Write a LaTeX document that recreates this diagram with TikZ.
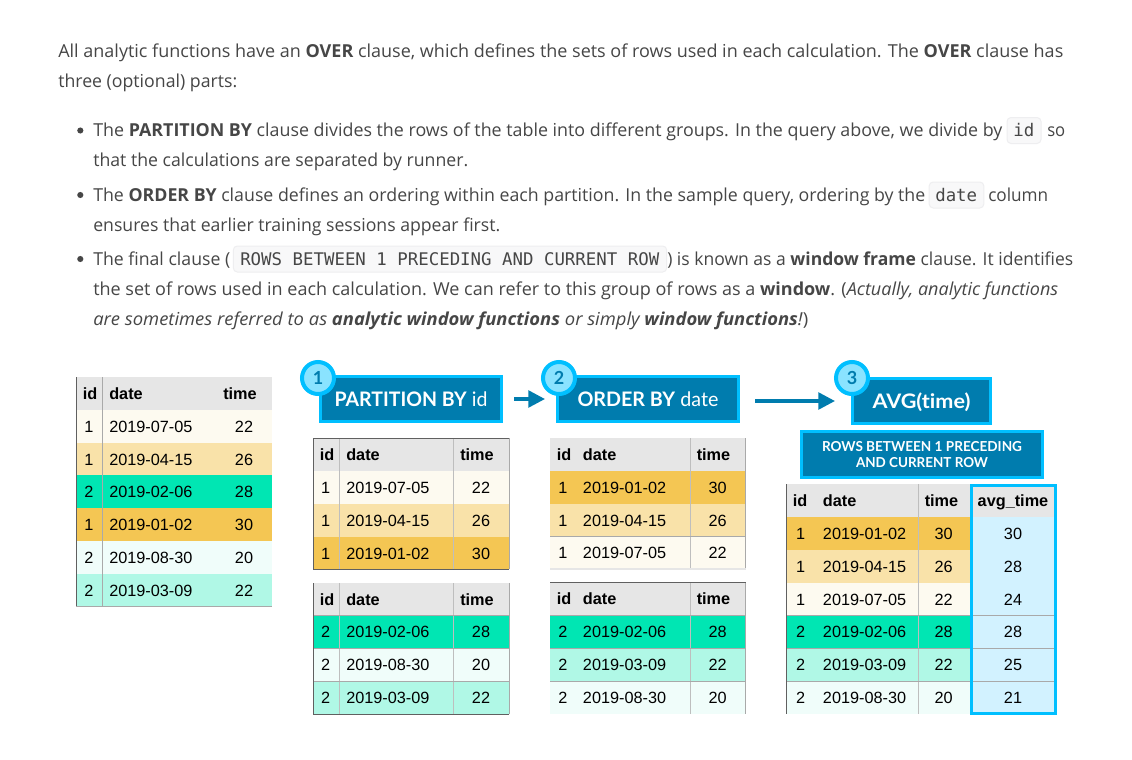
\documentclass[tikz,border=0pt]{standalone}
\usepackage{fontspec}
\usepackage{graphicx}
\setmainfont{Open Sans}
\setmonofont{DejaVu Sans Mono}
\newfontfamily\tabfont{Liberation Sans}
\newfontfamily\banfont[Ligatures=NoCommon]{Lato}
\usetikzlibrary{arrows.meta}
\definecolor{bodytxt}{HTML}{464646}
\definecolor{codebg}{HTML}{F8F8F9}
\definecolor{codeln}{HTML}{EEEEF0}
\definecolor{hdr}{HTML}{E6E6E6}
\definecolor{cream}{HTML}{FDFAF0}
\definecolor{lorange}{HTML}{F9E2A9}
\definecolor{orange}{HTML}{F4C653}
\definecolor{green}{HTML}{00E6B3}
\definecolor{lmint}{HTML}{F0FDFA}
\definecolor{mint}{HTML}{B0F8E6}
\definecolor{avgbg}{HTML}{D2F2FF}
\definecolor{banfill}{HTML}{007CAE}
\definecolor{bancyan}{HTML}{00BFFF}
\definecolor{circfill}{HTML}{8AE3FF}
\definecolor{gridgray}{HTML}{A9A9A9}
\definecolor{darkln}{HTML}{606060}
\newcommand{\fitw}[2]{\resizebox{\dimexpr #1pt*3/4\relax}{\height}{#2}}
\tikzset{
  para/.style={anchor=base west,inner sep=0pt,text=bodytxt,font=\fontsize{13.4pt}{16pt}\selectfont},
  codebox/.style={draw=codeln,fill=codebg,rounded corners=3pt,line width=0.75pt,inner sep=0pt,minimum height=19.5pt},
  codetxt/.style={anchor=base west,inner sep=0pt,text=bodytxt,font=\ttfamily\fontsize{13.05pt}{16pt}\selectfont},
  bulletdot/.style={circle,fill=bodytxt,inner sep=0pt,minimum size=4.6pt},
  cellb/.style={inner sep=0pt,text=black,font=\tabfont\fontsize{12.2pt}{14pt}\selectfont},
  cellc/.style={cellb,anchor=base},
  celll/.style={cellb,anchor=base west},
  headc/.style={cellc,font=\tabfont\bfseries\fontsize{12.2pt}{14pt}\selectfont},
  headl/.style={celll,font=\tabfont\bfseries\fontsize{12.2pt}{14pt}\selectfont},
  banner/.style={draw=bancyan,fill=banfill,line width=2.25pt,text=white,inner sep=0pt,
    font=\banfont\fontsize{15pt}{18pt}\selectfont},
  oneline/.style={text height=11.4pt,text depth=0pt},
  stepdot/.style={circle,draw=bancyan,fill=circfill,line width=3pt,minimum size=24pt,inner sep=0pt,
    text=banfill,font=\banfont\bfseries\fontsize{13.5pt}{16pt}\selectfont},
  flowarrow/.style={draw=banfill,line width=2.6pt,-{Triangle[length=12.5pt,width=12.5pt]}},
  sepln/.style={draw=gridgray,line width=0.6pt},
  colln/.style={draw=gridgray!75,line width=0.6pt},
  edgedark/.style={draw=darkln,line width=0.6pt}
}
% table column parameters: left, right, id centre, date left, number centre
\newcommand{\setcols}[5]{\def\xL{#1}\def\xR{#2}\def\xI{#3}\def\xD{#4}\def\xN{#5}}
\newcommand{\hrow}[5]{% name, top, bottom, time centre, id centre
  \fill[hdr] (\xL,#2) rectangle (\xR,#3);
  \path let \n1={(#2+#3)/2+6} in
    node[headc] (#1i) at (#5,\n1) {id}
    node[headl] (#1d) at (\xD,\n1) {date}
    node[headc] (#1t) at (#4,\n1) {time};}
\newcommand{\drow}[7]{% name, top, bottom, fill, id, date, time
  \fill[#4] (\xL,#2) rectangle (\xR,#3);
  \path let \n1={(#2+#3)/2+6} in
    node[cellc] (#1i) at (\xI,\n1) {#5}
    node[celll] (#1d) at (\xD,\n1) {#6}
    node[cellc] (#1t) at (\xN,\n1) {#7};}
\usetikzlibrary{calc}
\begin{document}
\begin{tikzpicture}[x=0.75pt,y=-0.75pt]
\useasboundingbox (0,0) rectangle (1132,760);
\fill[white] (0,0) rectangle (1132,760);
% paragraph text
\node[para] (l1) at (58,57) {\fitw{1005}{All analytic functions have an \textbf{OVER} clause, which defines the sets of rows used in each calculation. The \textbf{OVER} clause has}};
\node[para] (l2) at (58,87) {\fitw{179}{three (optional) parts:}};
\node[bulletdot] (b1) at (80.3,130.5) {};
\node[para] (l3) at (93,136) {\fitw{909}{The \textbf{PARTITION BY} clause divides the rows of the table into different groups. In the query above, we divide by}};
\node[codebox,minimum width=25.5pt] (c1) at (1024,130.5) {};
\node[codetxt] (c1t) at (1013,136) {id};
\node[para] (l3b) at (1047,136) {\fitw{18}{so}};
\node[para] (l4) at (93,166) {\fitw{375}{that the calculations are separated by runner.}};
\node[bulletdot] (b2) at (80.3,195) {};
\node[para] (l5) at (93,201) {\fitw{832}{The \textbf{ORDER BY} clause defines an ordering within each partition. In the sample query, ordering by the}};
\node[codebox,minimum width=41pt] (c2) at (956.5,195) {};
\node[codetxt] (c2t) at (935,201) {date};
\node[para] (l5b) at (988,201) {\fitw{60}{column}};
\node[para] (l6) at (93,231) {\fitw{407}{ensures that earlier training sessions appear first.}};
\node[bulletdot] (b3) at (80.3,259) {};
\node[para] (l7) at (93,265) {\fitw{137}{The final clause (}};
\node[codebox,minimum width=325pt] (c3) at (450,259) {};
\node[codetxt] (c3t) at (240,265) {ROWS BETWEEN 1 PRECEDING AND CURRENT ROW};
\node[para] (l7b) at (667,265) {\fitw{406}{) is known as a \textbf{window frame} clause. It identifies}};
\node[para] (l8) at (93,295) {\fitw{965}{the set of rows used in each calculation. We can refer to this group of rows as a \textbf{window}. (\textit{Actually, analytic functions}}};
\node[para] (l9) at (93,325) {\fitw{715}{\textit{are sometimes referred to as \textbf{analytic window functions} or simply \textbf{window functions}!})}};
% table 0
\setcols{76}{272}{89}{109}{244}
\hrow{ta0}{377}{410}{240}{90}
\drow{ta1}{410}{443}{cream}{1}{2019-07-05}{22}
\drow{ta2}{443}{475}{lorange}{1}{2019-04-15}{26}
\drow{ta3}{475}{508}{green}{2}{2019-02-06}{28}
\drow{ta4}{508}{541}{orange}{1}{2019-01-02}{30}
\drow{ta5}{541}{574}{lmint}{2}{2019-08-30}{20}
\drow{ta6}{574}{606.5}{mint}{2}{2019-03-09}{22}
\draw[sepln] (102,377) -- (102,606.5);
\draw[edgedark] (76,377) -- (76,606.5);
\draw[sepln] (76,606.5) -- (272,606.5);
% table 1a
\setcols{313}{509}{325.7}{346}{481}
\hrow{tb0}{438}{471}{477}{327}
\drow{tb1}{471}{504}{cream}{1}{2019-07-05}{22}
\drow{tb2}{504}{537}{lorange}{1}{2019-04-15}{26}
\drow{tb3}{537}{569}{orange}{1}{2019-01-02}{30}
\draw[colln] (339.5,438) -- (339.5,569) (453,438) -- (453,569);
\draw[sepln] (509,438) -- (509,569);
\draw[edgedark] (509,569) -- (313,569) -- (313,438) -- (509,438);
% table 1b
\hrow{tc0}{583}{615}{477}{327}
\drow{tc1}{615}{648}{green}{2}{2019-02-06}{28}
\drow{tc2}{648}{681}{lmint}{2}{2019-08-30}{20}
\drow{tc3}{681}{714}{mint}{2}{2019-03-09}{22}
\draw[colln] (339.5,583) -- (339.5,714) (453,583) -- (453,714);
\draw[sepln] (313,615) -- (509,615) (313,648) -- (509,648) (313,681) -- (509,681);
\draw[sepln] (509,583) -- (509,714);
\draw[edgedark] (509,714) -- (313,714) -- (313,583);
% table 2a
\setcols{550}{745.5}{563}{582.7}{717.7}
\hrow{td0}{438}{471}{713.5}{564}
\drow{td1}{471}{504}{orange}{1}{2019-01-02}{30}
\drow{td2}{504}{536}{lorange}{1}{2019-04-15}{26}
\drow{td3}{536}{569}{cream}{1}{2019-07-05}{22}
\draw[colln] (690.5,438) -- (690.5,569);
\draw[sepln] (550,536) -- (745.5,536) (745.5,438) -- (745.5,569);
\draw[draw=hdr,line width=0.8pt] (550,569) -- (745.5,569);
% table 2b
\hrow{te0}{582}{615}{713.5}{564}
\drow{te1}{615}{648}{green}{2}{2019-02-06}{28}
\drow{te2}{648}{681}{mint}{2}{2019-03-09}{22}
\drow{te3}{681}{714}{lmint}{2}{2019-08-30}{20}
\draw[colln] (690.5,582) -- (690.5,714);
\draw[sepln] (550,615) -- (745.5,615) (550,648) -- (745.5,648) (550,681) -- (745.5,681) (745.5,582) -- (745.5,714);
\draw[edgedark] (550,582) -- (745.5,582);
% table 3
\setcols{786}{970}{800.6}{822.7}{943.6}
\hrow{tf0}{484}{517}{941.5}{800}
\drow{tf1}{517}{550}{orange}{1}{2019-01-02}{30}
\drow{tf2}{550}{583}{lorange}{1}{2019-04-15}{26}
\drow{tf3}{583}{615}{cream}{1}{2019-07-05}{22}
\drow{tf4}{615}{648}{green}{2}{2019-02-06}{28}
\drow{tf5}{648}{681}{mint}{2}{2019-03-09}{22}
\drow{tf6}{681}{714}{lmint}{2}{2019-08-30}{20}
\fill[hdr] (970,484) rectangle (1057,517);
\fill[avgbg] (970,517) rectangle (1057,714);
\node[headc] (fa0) at (1013,506.5) {avg\_time};
\foreach \nm/\yy/\vv in {fa1/539.5/30,fa2/572.5/28,fa3/605/24,fa4/637.5/28,fa5/670.5/25,fa6/703.5/21}
  \node[cellc] (\nm) at (1013,\yy) {\vv};
\draw[colln] (918.5,484) -- (918.5,714);
\draw[sepln] (786,615) -- (1057,615) (786,648) -- (1057,648) (786,681) -- (1057,681);
\draw[edgedark] (786,484) -- (786,714);
\node[draw=bancyan,line width=2.25pt,inner sep=0pt,minimum width=84*0.75pt,minimum height=228*0.75pt] (avgframe) at (1013.5,599.5) {};
% banners
\node[banner,oneline,minimum width=181*0.75pt,minimum height=45*0.75pt] (ban1) at (411,399) {\fitw{153}{\textbf{PARTITION BY} id}};
\node[banner,oneline,minimum width=181*0.75pt,minimum height=45*0.75pt] (ban2) at (648,399) {\fitw{141}{\textbf{ORDER BY} date}};
\node[banner,oneline,minimum width=138*0.75pt,minimum height=45*0.75pt] (ban3) at (921.5,401) {\fitw{98}{\textbf{AVG(time)}}};
\node[banner,minimum width=241*0.75pt,minimum height=46*0.75pt,align=center,font=\banfont\bfseries\fontsize{10.3pt}{13pt}\selectfont] (ban4) at (922,454.5) {\fitw{200}{ROWS BETWEEN 1 PRECEDING}\\[-0.5pt]\fitw{132}{AND CURRENT ROW}};
\draw[flowarrow,shorten <=8.25pt,shorten >=8.25pt] (ban1.east) -- (ban2.west);
\draw[flowarrow,shorten <=11.25pt,shorten >=12pt] (ban2.east |- ban3.west) -- (ban3.west);
\node[stepdot] (n1) at (318,378) {1};
\node[stepdot] (n2) at (559,378) {2};
\node[stepdot] (n3) at (852,378) {3};
\end{tikzpicture}
\end{document}
